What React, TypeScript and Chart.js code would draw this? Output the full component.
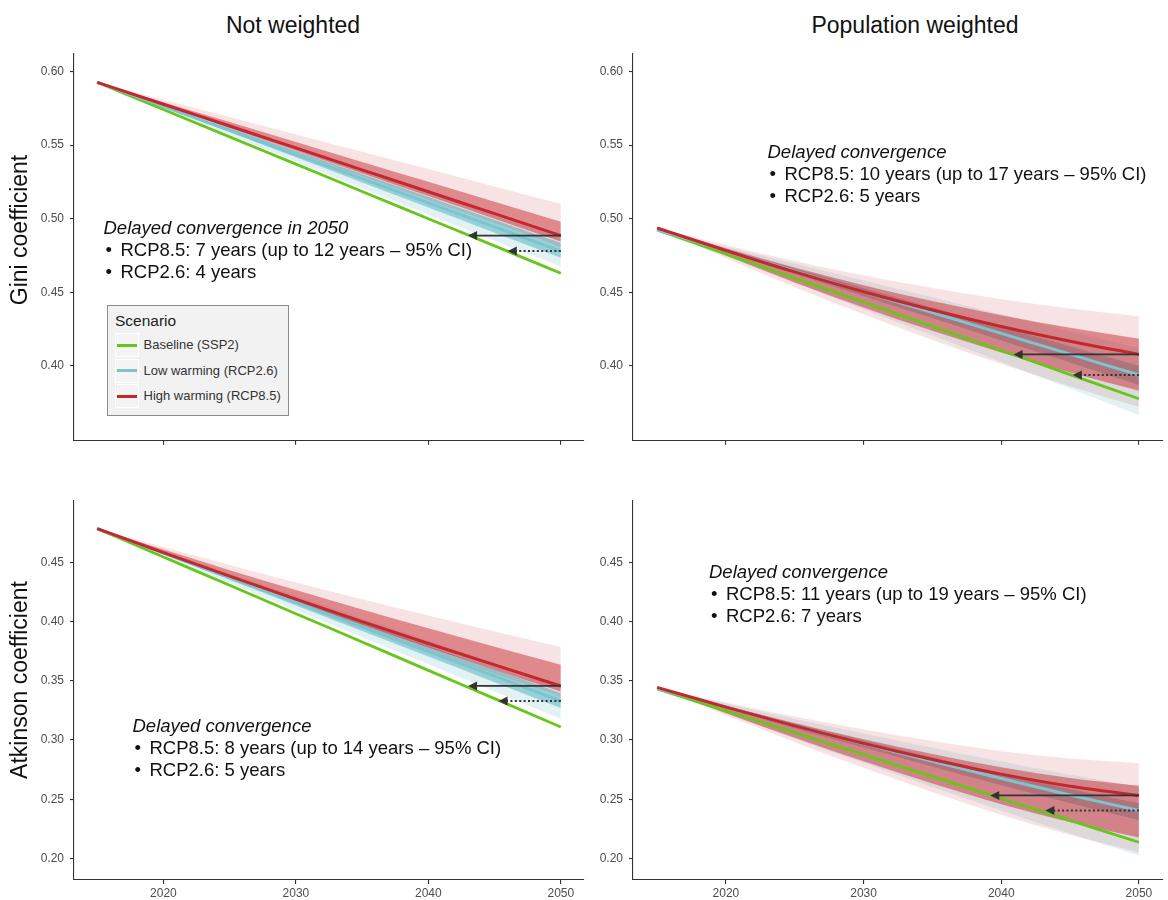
import React, { useEffect, useRef } from "react";
import { Chart, registerables } from "chart.js";
Chart.register(...registerables);

const FONT = '"Liberation Sans", Arial, Helvetica, sans-serif';

// ---------- data ----------
const YEARS = [2015, 2020, 2025, 2030, 2035, 2040, 2045, 2050];
const X_TICKS = [2020, 2030, 2040, 2050];
const Y_TICKS_GINI = [0.4, 0.45, 0.5, 0.55, 0.6];
const Y_TICKS_ATK = [0.2, 0.25, 0.3, 0.35, 0.4, 0.45];
const GINI_RANGE = [0.349, 0.6125];
const ATK_RANGE = [0.1817, 0.5027];
const X_RANGE = [2013.25, 2051.75];

// Gini, not weighted
const GINI_NW_BASE = [0.5927, 0.5742, 0.5556, 0.5371, 0.5185, 0.5, 0.4815, 0.4629];
const GINI_NW_R26 = [0.5927, 0.5763, 0.56, 0.5436, 0.5272, 0.5108, 0.4944, 0.478];
const GINI_NW_R26_HI95 = [0.5927, 0.5776, 0.5626, 0.5475, 0.5323, 0.5172, 0.5021, 0.487];
const GINI_NW_R26_HI50 = [0.5927, 0.5771, 0.5616, 0.546, 0.5303, 0.5147, 0.4991, 0.4835];
const GINI_NW_R26_LO50 = [0.5927, 0.5757, 0.5587, 0.5417, 0.5246, 0.5076, 0.4905, 0.4735];
const GINI_NW_R26_LO95 = [0.5927, 0.5747, 0.5569, 0.5389, 0.5209, 0.5029, 0.485, 0.4675];
const GINI_NW_R85 = [0.5927, 0.5778, 0.563, 0.5481, 0.5332, 0.5183, 0.5034, 0.4885];
const GINI_NW_R85_HI95 = [0.5927, 0.5809, 0.5691, 0.5573, 0.5455, 0.5337, 0.5218, 0.51];
const GINI_NW_R85_HI50 = [0.5927, 0.5792, 0.5657, 0.5522, 0.5386, 0.5251, 0.5115, 0.498];
const GINI_NW_R85_LO50 = [0.5927, 0.5772, 0.5619, 0.5464, 0.5309, 0.5154, 0.5, 0.4845];
const GINI_NW_R85_LO95 = [0.5927, 0.5767, 0.5609, 0.5449, 0.5289, 0.5129, 0.497, 0.481];

// Gini, population weighted
const GINI_PW_BASE = [0.4924, 0.476, 0.4596, 0.4432, 0.4268, 0.4104, 0.394, 0.3776];
const GINI_PW_R26 = [0.4924, 0.4784, 0.4643, 0.4502, 0.4361, 0.422, 0.4079, 0.3937];
const GINI_PW_R26_HI95 = [0.4924, 0.481, 0.4695, 0.458, 0.4466, 0.4351, 0.4236, 0.412];
const GINI_PW_R26_HI50 = [0.4924, 0.4793, 0.4661, 0.4529, 0.4397, 0.4265, 0.4133, 0.4];
const GINI_PW_R26_LO50 = [0.4924, 0.4774, 0.4624, 0.4473, 0.4323, 0.4172, 0.4022, 0.387];
const GINI_PW_R26_LO95 = [0.4924, 0.4745, 0.4565, 0.4385, 0.4206, 0.4026, 0.3846, 0.3665];
const GINI_PW_R85 = [0.4937, 0.4784, 0.4638, 0.4503, 0.4379, 0.4267, 0.4167, 0.4077];
const GINI_PW_R85_HI95 = [0.4937, 0.4821, 0.4712, 0.4614, 0.4528, 0.4453, 0.439, 0.4337];
const GINI_PW_R85_HI50 = [0.4937, 0.4799, 0.4668, 0.4548, 0.444, 0.4343, 0.4258, 0.4183];
const GINI_PW_R85_LO50 = [0.4937, 0.4749, 0.4567, 0.4397, 0.4238, 0.4091, 0.3955, 0.383];
const GINI_PW_R85_LO95 = [0.4937, 0.4733, 0.4536, 0.435, 0.4175, 0.4012, 0.3861, 0.372];

// Atkinson, not weighted
const ATK_NW_BASE = [0.4787, 0.4547, 0.4308, 0.4068, 0.3829, 0.3589, 0.335, 0.311];
const ATK_NW_R26 = [0.4787, 0.4579, 0.4371, 0.4163, 0.3955, 0.3748, 0.354, 0.333];
const ATK_NW_R26_HI95 = [0.4787, 0.4598, 0.4408, 0.4219, 0.4029, 0.3841, 0.3651, 0.346];
const ATK_NW_R26_HI50 = [0.4787, 0.4588, 0.439, 0.4191, 0.3992, 0.3794, 0.3596, 0.3395];
const ATK_NW_R26_LO50 = [0.4787, 0.457, 0.4354, 0.4137, 0.3921, 0.3705, 0.3489, 0.327];
const ATK_NW_R26_LO95 = [0.4787, 0.4558, 0.4328, 0.4099, 0.3869, 0.3641, 0.3411, 0.318];
const ATK_NW_R85 = [0.4787, 0.4584, 0.4385, 0.4191, 0.4001, 0.3816, 0.3635, 0.3457];
const ATK_NW_R85_HI95 = [0.4787, 0.4631, 0.4479, 0.4332, 0.419, 0.4052, 0.3918, 0.3787];
const ATK_NW_R85_HI50 = [0.4787, 0.461, 0.4436, 0.4268, 0.4104, 0.3945, 0.3789, 0.3637];
const ATK_NW_R85_LO50 = [0.4787, 0.4577, 0.4372, 0.4171, 0.3974, 0.3782, 0.3595, 0.341];
const ATK_NW_R85_LO95 = [0.4787, 0.4572, 0.436, 0.4154, 0.3951, 0.3754, 0.356, 0.337];

// Atkinson, population weighted
const ATK_PW_BASE = [0.3432, 0.3247, 0.3062, 0.2877, 0.2691, 0.2506, 0.2321, 0.2136];
const ATK_PW_R26 = [0.3435, 0.328, 0.312, 0.297, 0.282, 0.2675, 0.2535, 0.2405];
const ATK_PW_R26_HI95 = [0.3435, 0.3309, 0.3177, 0.3056, 0.2934, 0.2818, 0.2706, 0.2605];
const ATK_PW_R26_HI50 = [0.3435, 0.3289, 0.3137, 0.2996, 0.2854, 0.2718, 0.2586, 0.2465];
const ATK_PW_R26_LO50 = [0.3435, 0.3269, 0.3097, 0.2936, 0.2774, 0.2618, 0.2466, 0.2325];
const ATK_PW_R26_LO95 = [0.3435, 0.3226, 0.3011, 0.2807, 0.2603, 0.2404, 0.2209, 0.2025];
const ATK_PW_R85 = [0.3445, 0.3278, 0.312, 0.2972, 0.2836, 0.2712, 0.261, 0.2532];
const ATK_PW_R85_HI95 = [0.3445, 0.3317, 0.3198, 0.3089, 0.2991, 0.2906, 0.2843, 0.2804];
const ATK_PW_R85_HI50 = [0.3445, 0.329, 0.3143, 0.3007, 0.2882, 0.277, 0.2679, 0.2613];
const ATK_PW_R85_LO50 = [0.3445, 0.3227, 0.3019, 0.282, 0.2633, 0.2458, 0.2306, 0.2177];
const ATK_PW_R85_LO95 = [0.3445, 0.3209, 0.2982, 0.2765, 0.2561, 0.2368, 0.2197, 0.205];

// year where the baseline reaches the RCP value in 2050 (arrow tips): [RCP8.5, RCP2.6]
const CATCHUP_GINI_NW = [2043, 2046];
const CATCHUP_GINI_PW = [2040.9, 2045.2];
const CATCHUP_ATK_NW = [2043, 2045.3];
const CATCHUP_ATK_PW = [2039.2, 2043.2];

const LEGEND_LABELS = ["Baseline (SSP2)", "Low warming (RCP2.6)", "High warming (RCP8.5)"];
const COL_TITLES = ["Not weighted", "Population weighted"];
const ROW_TITLES = ["Gini coefficient", "Atkinson coefficient"];

// ---------- styles ----------
const GREEN = "#66C61C";
const CYAN = "#7CC4CE";
const RED = "#C4282E";
const RED_50 = "rgba(196,40,46,0.48)";
const RED_95 = "rgba(196,40,46,0.13)";
const CYAN_50 = "rgba(110,190,202,0.65)";
const CYAN_95 = "rgba(124,196,206,0.22)";
const AXIS = "#333333";

type Series = {
  base: number[]; r26: number[]; r26hi95: number[]; r26hi50: number[]; r26lo50: number[]; r26lo95: number[];
  r85: number[]; r85hi95: number[]; r85hi50: number[]; r85lo50: number[]; r85lo95: number[];
};

const pts = (arr: number[]) => YEARS.map((x, i) => ({ x, y: arr[i] }));

function lineDs(arr: number[], color: string, w: number) {
  return { data: pts(arr), borderColor: color, borderWidth: w, pointRadius: 0, fill: false, cubicInterpolationMode: "monotone" };
}
function bandTop(arr: number[], color: string) {
  return { data: pts(arr), borderColor: "rgba(0,0,0,0)", borderWidth: 0.01, backgroundColor: color, pointRadius: 0, fill: "+1", cubicInterpolationMode: "monotone" };
}
function bandBottom(arr: number[]) {
  return { data: pts(arr), borderColor: "rgba(0,0,0,0)", borderWidth: 0.01, pointRadius: 0, fill: false, cubicInterpolationMode: "monotone" };
}

type PanelCfg = {
  s: Series; area: { l: number; t: number; r: number; b: number };
  yRange: number[]; yTicks: number[]; xLabels: boolean; catchup: number[];
};

const PANELS: PanelCfg[] = [
  {
    s: { base: GINI_NW_BASE, r26: GINI_NW_R26, r26hi95: GINI_NW_R26_HI95, r26hi50: GINI_NW_R26_HI50, r26lo50: GINI_NW_R26_LO50, r26lo95: GINI_NW_R26_LO95,
      r85: GINI_NW_R85, r85hi95: GINI_NW_R85_HI95, r85hi50: GINI_NW_R85_HI50, r85lo50: GINI_NW_R85_LO50, r85lo95: GINI_NW_R85_LO95 },
    area: { l: 74, t: 44, r: 584, b: 444 }, yRange: GINI_RANGE, yTicks: Y_TICKS_GINI, xLabels: false, catchup: CATCHUP_GINI_NW,
  },
  {
    s: { base: GINI_PW_BASE, r26: GINI_PW_R26, r26hi95: GINI_PW_R26_HI95, r26hi50: GINI_PW_R26_HI50, r26lo50: GINI_PW_R26_LO50, r26lo95: GINI_PW_R26_LO95,
      r85: GINI_PW_R85, r85hi95: GINI_PW_R85_HI95, r85hi50: GINI_PW_R85_HI50, r85lo50: GINI_PW_R85_LO50, r85lo95: GINI_PW_R85_LO95 },
    area: { l: 633, t: 44, r: 1163, b: 444 }, yRange: GINI_RANGE, yTicks: Y_TICKS_GINI, xLabels: false, catchup: CATCHUP_GINI_PW,
  },
  {
    s: { base: ATK_NW_BASE, r26: ATK_NW_R26, r26hi95: ATK_NW_R26_HI95, r26hi50: ATK_NW_R26_HI50, r26lo50: ATK_NW_R26_LO50, r26lo95: ATK_NW_R26_LO95,
      r85: ATK_NW_R85, r85hi95: ATK_NW_R85_HI95, r85hi50: ATK_NW_R85_HI50, r85lo50: ATK_NW_R85_LO50, r85lo95: ATK_NW_R85_LO95 },
    area: { l: 74, t: 491, r: 584, b: 880 }, yRange: ATK_RANGE, yTicks: Y_TICKS_ATK, xLabels: true, catchup: CATCHUP_ATK_NW,
  },
  {
    s: { base: ATK_PW_BASE, r26: ATK_PW_R26, r26hi95: ATK_PW_R26_HI95, r26hi50: ATK_PW_R26_HI50, r26lo50: ATK_PW_R26_LO50, r26lo95: ATK_PW_R26_LO95,
      r85: ATK_PW_R85, r85hi95: ATK_PW_R85_HI95, r85hi50: ATK_PW_R85_HI50, r85lo50: ATK_PW_R85_LO50, r85lo95: ATK_PW_R85_LO95 },
    area: { l: 633, t: 491, r: 1163, b: 880 }, yRange: ATK_RANGE, yTicks: Y_TICKS_ATK, xLabels: true, catchup: CATCHUP_ATK_PW,
  },
];

const YW = 46; // y-axis box width
const PT = 4; // top padding
const PR = 5; // right padding

function arrowPlugin(arrows: { from: number; to: number; value: number; dashed: boolean }[]) {
  return {
    id: "arrows",
    afterDatasetsDraw(chart: any) {
      const { ctx, scales } = chart;
      const xs = scales.x, ys = scales.y;
      ctx.save();
      for (const a of arrows) {
        const yp = ys.getPixelForValue(a.value);
        const x0 = xs.getPixelForValue(a.from);
        const x1 = xs.getPixelForValue(a.to);
        const head = 9;
        ctx.strokeStyle = AXIS;
        ctx.lineWidth = a.dashed ? 2 : 1.8;
        ctx.setLineDash(a.dashed ? [2, 2.4] : []);
        ctx.beginPath();
        ctx.moveTo(x0, yp);
        ctx.lineTo(x1 + head - 1, yp);
        ctx.stroke();
        ctx.setLineDash([]);
        ctx.fillStyle = AXIS;
        ctx.beginPath();
        ctx.moveTo(x1, yp);
        ctx.lineTo(x1 + head, yp - 4.5);
        ctx.lineTo(x1 + head, yp + 4.5);
        ctx.closePath();
        ctx.fill();
      }
      ctx.restore();
    },
  };
}

function PanelChart({ p }: { p: PanelCfg }) {
  const ref = useRef<HTMLCanvasElement>(null);
  const XH = p.xLabels ? 20 : 10;
  const w = YW + (p.area.r - p.area.l) + PR;
  const h = PT + (p.area.b - p.area.t) + XH;
  useEffect(() => {
    const s = p.s;
    const last = YEARS.length - 1;
    const datasets: any[] = [
      lineDs(s.r85, RED, 3),
      lineDs(s.r26, CYAN, 3),
      lineDs(s.base, GREEN, 2.8),
      bandTop(s.r85hi50, RED_50),
      bandBottom(s.r85lo50),
      bandTop(s.r85hi95, RED_95),
      bandBottom(s.r85lo95),
      bandTop(s.r26hi50, CYAN_50),
      bandBottom(s.r26lo50),
      bandTop(s.r26hi95, CYAN_95),
      bandBottom(s.r26lo95),
    ];
    const arrows = [
      { from: YEARS[last], to: p.catchup[0], value: s.r85[last], dashed: false },
      { from: YEARS[last], to: p.catchup[1], value: s.r26[last], dashed: true },
    ];
    const tickFont = { family: FONT, size: 12 };
    const chart = new Chart(ref.current as HTMLCanvasElement, {
      type: "line",
      data: { datasets },
      options: {
        animation: false,
        responsive: false,
        maintainAspectRatio: false,
        devicePixelRatio: 1,
        layout: { padding: { left: 0, right: PR, top: PT, bottom: 0 }, autoPadding: false },
        plugins: { legend: { display: false }, tooltip: { enabled: false }, filler: { propagate: false } },
        scales: {
          x: {
            type: "linear",
            min: X_RANGE[0],
            max: X_RANGE[1],
            afterBuildTicks: (sc: any) => { sc.ticks = X_TICKS.map((v) => ({ value: v })); },
            afterFit: (sc: any) => { sc.height = XH; },
            grid: { display: true, drawOnChartArea: false, drawTicks: true, tickLength: 4, color: AXIS, lineWidth: 1.1 },
            border: { display: true, color: AXIS, width: 1.1 },
            ticks: { display: p.xLabels, color: "#4d4d4d", font: tickFont, padding: 2, maxRotation: 0, autoSkip: false, callback: (v: any) => String(v) },
          },
          y: {
            type: "linear",
            min: p.yRange[0],
            max: p.yRange[1],
            afterBuildTicks: (sc: any) => { sc.ticks = p.yTicks.map((v) => ({ value: v })); },
            afterFit: (sc: any) => { sc.width = YW; },
            grid: { display: true, drawOnChartArea: false, drawTicks: true, tickLength: 4, color: AXIS, lineWidth: 1.1 },
            border: { display: true, color: AXIS, width: 1.1 },
            ticks: { color: "#4d4d4d", font: tickFont, padding: 6, autoSkip: false, callback: (v: any) => Number(v).toFixed(2) },
          },
        },
      } as any,
      plugins: [arrowPlugin(arrows)],
    });
    return () => chart.destroy();
  }, []);
  return (
    <canvas
      ref={ref}
      width={w}
      height={h}
      style={{ position: "absolute", left: p.area.l - YW, top: p.area.t - PT, width: w, height: h }}
    />
  );
}

const TXT = 18.5;
const LH = 22;

function Note({ x, y, head, l1, l2 }: { x: number; y: number; head: string; l1: string; l2: string }) {
  const line = (cy: number, content: React.ReactNode, left: number, italic = false) => (
    <div
      style={{
        position: "absolute", left, top: cy - LH / 2, height: LH, lineHeight: LH + "px",
        fontSize: TXT, whiteSpace: "nowrap", color: "#111", fontStyle: italic ? "italic" : "normal",
      }}
    >
      {content}
    </div>
  );
  return (
    <>
      {line(y, head, x, true)}
      {line(y + 22, "•", x + 2)}
      {line(y + 22, l1, x + 17)}
      {line(y + 44, "•", x + 2)}
      {line(y + 44, l2, x + 17)}
    </>
  );
}

function Legend() {
  const keyColors = [GREEN, CYAN, RED];
  const ys = [345, 370.5, 396];
  return (
    <>
      <div style={{ position: "absolute", left: 106.5, top: 305, width: 182, height: 111, background: "#f2f2f2", border: "1px solid #8c8c8c", boxSizing: "border-box" }} />
      <div style={{ position: "absolute", left: 115, top: 320.5 - 10, height: 20, lineHeight: "20px", fontSize: 15.5, color: "#222", whiteSpace: "nowrap" }}>Scenario</div>
      {LEGEND_LABELS.map((lab, i) => (
        <React.Fragment key={lab}>
          <div style={{ position: "absolute", left: 115, top: ys[i] - 12, width: 24, height: 24, background: "#f4f4f4", border: "1px solid #ffffff", boxSizing: "border-box" }} />
          <div style={{ position: "absolute", left: 117, top: ys[i] - 1.5, width: 20, height: 3, background: keyColors[i] }} />
          <div style={{ position: "absolute", left: 143.5, top: ys[i] - 9, height: 18, lineHeight: "18px", fontSize: 13, color: "#333", whiteSpace: "nowrap" }}>{lab}</div>
        </React.Fragment>
      ))}
    </>
  );
}

export default function App() {
  return (
    <div style={{ position: "relative", width: 1168, height: 900, overflow: "hidden", background: "#fff", fontFamily: FONT }}>
      <style>{"body{margin:0;}"}</style>
      {PANELS.map((p, i) => <PanelChart key={i} p={p} />)}
      <div style={{ position: "absolute", left: 293, top: 25, transform: "translate(-50%,-50%)", fontSize: 23, whiteSpace: "nowrap", color: "#111" }}>{COL_TITLES[0]}</div>
      <div style={{ position: "absolute", left: 915, top: 25, transform: "translate(-50%,-50%)", fontSize: 23, whiteSpace: "nowrap", color: "#111" }}>{COL_TITLES[1]}</div>
      <div style={{ position: "absolute", left: 19, top: 230, transform: "translate(-50%,-50%) rotate(-90deg)", fontSize: 23, whiteSpace: "nowrap", color: "#111" }}>{ROW_TITLES[0]}</div>
      <div style={{ position: "absolute", left: 19, top: 680, transform: "translate(-50%,-50%) rotate(-90deg)", fontSize: 23, whiteSpace: "nowrap", color: "#111" }}>{ROW_TITLES[1]}</div>
      <Note x={103.5} y={228} head="Delayed convergence in 2050" l1="RCP8.5: 7 years (up to 12 years – 95% CI)" l2="RCP2.6: 4 years" />
      <Note x={767.5} y={152} head="Delayed convergence" l1="RCP8.5: 10 years (up to 17 years – 95% CI)" l2="RCP2.6: 5 years" />
      <Note x={132.5} y={726} head="Delayed convergence" l1="RCP8.5: 8 years (up to 14 years – 95% CI)" l2="RCP2.6: 5 years" />
      <Note x={709} y={572} head="Delayed convergence" l1="RCP8.5: 11 years (up to 19 years – 95% CI)" l2="RCP2.6: 7 years" />
      <Legend />
    </div>
  );
}
